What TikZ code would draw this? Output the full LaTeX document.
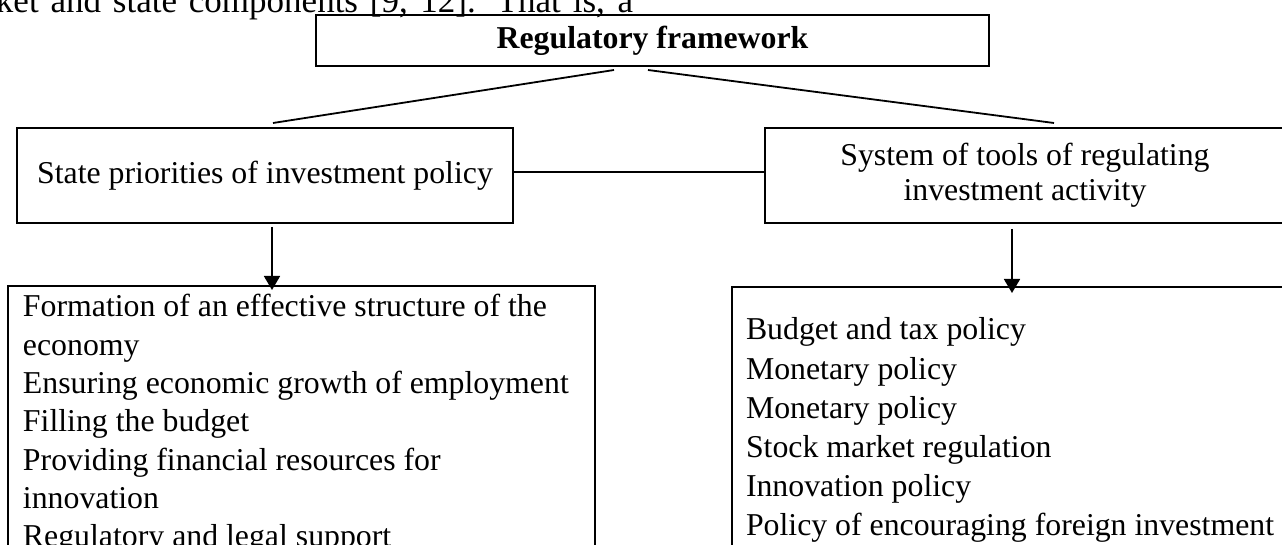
\documentclass[tikz,border=0pt]{standalone}
\usepackage{fontspec}
\setmainfont{Liberation Serif}
\usetikzlibrary{arrows.meta,calc}
\begin{document}
\begin{tikzpicture}[x=0.5pt,y=-0.5pt,
  every node/.style={font=\fontsize{15.9pt}{18pt}\selectfont, inner sep=0pt, outer sep=0pt},
  box/.style={draw, line width=1.15pt},
  conn/.style={line width=0.9pt},
  arr/.style={line width=0.9pt, -{Triangle[length=7pt,width=8pt]}}]
\useasboundingbox (0,0) rectangle (1282,545);
% cut-off line of running text above the figure
\node[anchor=base west] (para) at (-4,13) {\fontsize{17.5pt}{20pt}\selectfont\makebox[318.5pt][s]{ket and state components [9, 12]. That is, a}};
% boxes
\node[box, minimum width=336.5pt, minimum height=25.5pt, font=\fontsize{15.9pt}{18pt}\selectfont\bfseries] (top) at (652.5,40.5) {Regulatory framework};
\node[box, minimum width=248pt, minimum height=47.5pt] (L) at (265,175.5) {State priorities of investment policy};
\node[box, minimum width=260pt, minimum height=47.5pt, align=center, font=\fontsize{15.9pt}{17.5pt}\selectfont] (R) at (1025,175.5) {System of tools of regulating\\investment activity};
\node[box, minimum width=293.5pt, minimum height=140pt] (LB) at (301.5,426) {};
\node[box, minimum width=284pt, minimum height=140pt] (RB) at (1016,427) {};
% list texts
\node[anchor=base west] (LT) at (23,317) {\fontsize{15.9pt}{19.15pt}\selectfont\begin{tabular}[t]{@{}l@{}}
Formation of an effective structure of the\\
economy\\
Ensuring economic growth of employment\\
Filling the budget\\
Providing financial resources for\\
innovation\\
Regulatory and legal support
\end{tabular}};
\node[anchor=base west] (RT) at (746,340) {\fontsize{15.9pt}{19.6pt}\selectfont\begin{tabular}[t]{@{}l@{}}
Budget and tax policy\\
Monetary policy\\
Monetary policy\\
Stock market regulation\\
Innovation policy\\
Policy of encouraging foreign investment
\end{tabular}};
% connectors
\draw[conn] ([shift={(-38.5,4)}]top.south) -- ([shift={(8,-5)}]L.north);
\draw[conn] ([shift={(-4.5,4)}]top.south) -- ([shift={(29,-5)}]R.north);
\draw[conn] ([shift={(0,-3.5)}]L.east) -- ([shift={(0,-3.5)}]R.west);
\draw[arr] ([shift={(7,4)}]L.south) -- ([shift={(7,4)}]L.south |- LB.north);
\draw[arr] ([shift={(-13,6)}]R.south) -- ([shift={(-13,6)}]R.south |- RB.north);
\end{tikzpicture}
\end{document}
